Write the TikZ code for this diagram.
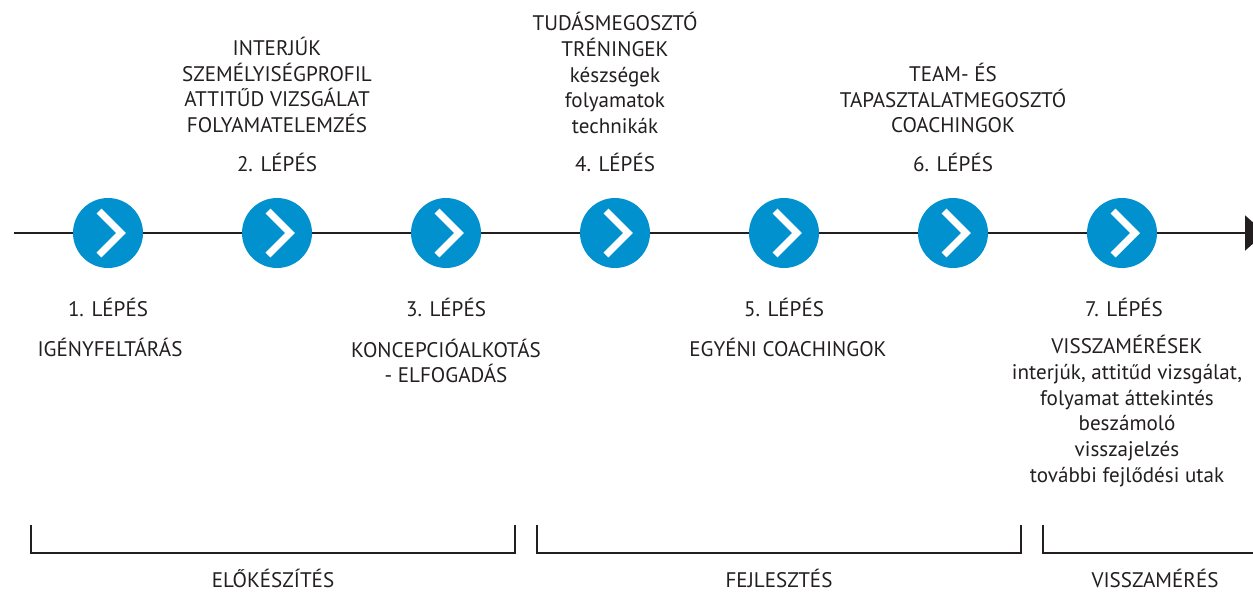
\documentclass[tikz,border=0pt]{standalone}
\usepackage{fontspec}
\setmainfont{PT Sans}
\usetikzlibrary{arrows.meta}
\definecolor{stepblue}{RGB}{0,145,206}
\definecolor{ink}{RGB}{35,31,32}

\begin{document}
\begin{tikzpicture}[x=0.02cm,y=-0.02cm,
  lbl/.style={text=ink,inner sep=0pt,align=center,font=\fontsize{12}{14.6}\selectfont},
  stepdot/.style={circle,fill=stepblue,minimum size=1.4cm,inner sep=0pt},
  chevron/.style={white,line width=4pt},
  axis/.style={ink,line width=1.1pt},
  phase/.style={ink,line width=0.8pt}]
\useasboundingbox (0,0) rectangle (1253,593);
% the steps
\foreach \i in {1,...,7}{
  \pgfmathsetmacro{\cx}{108+169*(\i-1)}
  \node[stepdot] (s\i) at (\cx,233) {};
  \draw[chevron] (\cx-9,211) -- (\cx+13,233) -- (\cx-9,255);
}
\coordinate (start) at (14,233);
\coordinate (end) at (1265,233);
\draw[axis] (start) -- (s1);
\foreach \i [evaluate=\i as \j using int(\i+1)] in {1,...,6}
  \draw[axis] (s\i) -- (s\j);
\draw[axis,-{Triangle[length=0.4cm,width=0.7cm]}] (s7) -- (end);
% labels below the line
\node[lbl] (p1) at (108,307) {1. LÉPÉS};
\node[lbl] (d1) at (110,347) {IGÉNYFELTÁRÁS};
\node[lbl] (p3) at (446,307) {3. LÉPÉS};
\node[lbl] (d3) at (446,361) {KONCEPCIÓALKOTÁS\\- ELFOGADÁS};
\node[lbl] (p5) at (784,307) {5. LÉPÉS};
\node[lbl] (d5) at (788,347) {EGYÉNI COACHINGOK};
\node[lbl] (p7) at (1124,307) {7. LÉPÉS};
\node[lbl] (d7) at (1127,411) {VISSZAMÉRÉSEK\\interjúk, attitűd vizsgálat,\\folyamat áttekintés\\beszámoló\\visszajelzés\\további fejlődési utak};
% labels above the line
\node[lbl] (p2) at (277,162) {2. LÉPÉS};
\node[lbl] (d2) at (277,85) {INTERJÚK\\SZEMÉLYISÉGPROFIL\\ATTITŰD VIZSGÁLAT\\FOLYAMATELEMZÉS};
\node[lbl] (p4) at (615,162) {4. LÉPÉS};
\node[lbl] (d4) at (615,73) {TUDÁSMEGOSZTÓ\\TRÉNINGEK\\készségek\\folyamatok\\technikák};
\node[lbl] (p6) at (953,162) {6. LÉPÉS};
\node[lbl] (d6) at (953,98) {TEAM- ÉS\\TAPASZTALATMEGOSZTÓ\\COACHINGOK};
% phases
\draw[phase] (31,525) |- (515,553) -- (515,525);
\draw[phase] (537,525) |- (1021,553) -- (1021,525);
\draw[phase] (1043,525) |- (1260,553);
\node[lbl] (f1) at (273,578) {ELŐKÉSZÍTÉS};
\node[lbl] (f2) at (779,578) {FEJLESZTÉS};
\node[lbl] (f3) at (1155,578) {VISSZAMÉRÉS};
\end{tikzpicture}
\end{document}
